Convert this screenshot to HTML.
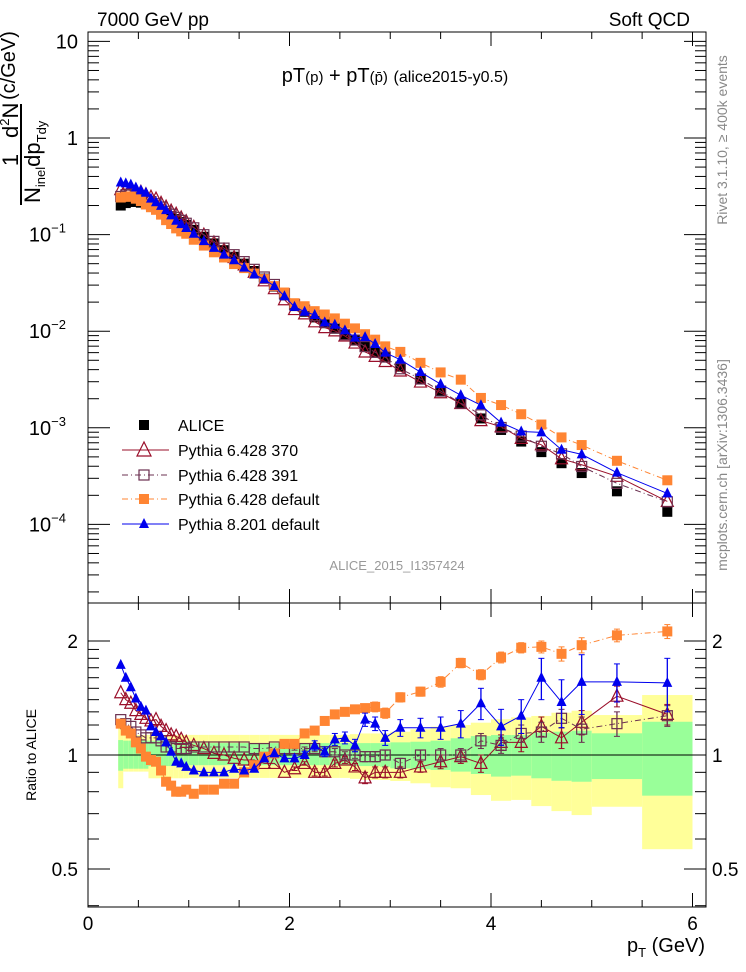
<!DOCTYPE html>
<html><head><meta charset="utf-8">
<style>
html,body{margin:0;padding:0;background:#fff;}
svg{display:block;font-family:"Liberation Sans",sans-serif;}
</style></head>
<body>
<svg id="chart" width="746" height="972" viewBox="0 0 746 972" xmlns="http://www.w3.org/2000/svg">
<g id="bands"></g>
<g id="axes"></g>
<g id="series"></g>
<text x="97" y="26" font-size="19">7000 GeV pp</text>
<text x="690" y="26" font-size="19" text-anchor="end">Soft QCD</text>
<text x="395" y="82" font-size="20" text-anchor="middle">pT<tspan font-size="15">(p)</tspan> + pT<tspan font-size="15">(p̄)</tspan> <tspan font-size="16">(alice2015-y0.5)</tspan></text>
<text x="397" y="570" font-size="13" fill="#999" text-anchor="middle">ALICE_2015_I1357424</text>
<text transform="translate(727,140) rotate(-90)" font-size="14" fill="#888" text-anchor="middle">Rivet 3.1.10, ≥ 400k events</text>
<text transform="translate(727,465) rotate(-90)" font-size="14" fill="#888" text-anchor="middle">mcplots.cern.ch [arXiv:1306.3436]</text>
<g transform="rotate(-90)">
  <text x="-160" y="18" font-size="22" text-anchor="middle">1</text>
  <line x1="-205" y1="21" x2="-104" y2="21" stroke="#000" stroke-width="2"/>
  <text x="-138" y="18" font-size="22">d<tspan font-size="13" dy="-9">2</tspan><tspan dy="9">N</tspan></text>
  <text x="-203" y="40" font-size="22">N<tspan font-size="13" dy="5">inel</tspan><tspan dy="-5">dp</tspan><tspan font-size="13" dy="6">Tdy</tspan></text>
  <text x="-100" y="15" font-size="20">(c/GeV)</text>
</g>
<text transform="translate(36,755) rotate(-90)" font-size="14" text-anchor="middle">Ratio to ALICE</text>
<text x="705" y="952" font-size="20" text-anchor="end">p<tspan font-size="13" dy="5">T</tspan><tspan dy="-5"> (GeV)</tspan></text>
<g id="legend"></g>
</svg>
<script>
// ---- data ----
const ptCenters = [0.325,0.375,0.425,0.475,0.525,0.575,0.625,0.675,0.725,0.775,0.825,0.875,0.925,0.975,
 1.05,1.15,1.25,1.35,1.45,1.55,1.65,1.75,1.85,1.95,
 2.05,2.15,2.25,2.35,2.45,2.55,2.65,2.75,2.85,2.95,
 3.1,3.3,3.5,3.7,3.9,4.1,4.3,4.5,4.7,4.9,5.25,5.75];
const binEdges = [0.3,0.35,0.4,0.45,0.5,0.55,0.6,0.65,0.7,0.75,0.8,0.85,0.9,0.95,1.0,
 1.1,1.2,1.3,1.4,1.5,1.6,1.7,1.8,1.9,2.0,2.1,2.2,2.3,2.4,2.5,2.6,2.7,2.8,2.9,3.0,
 3.2,3.4,3.6,3.8,4.0,4.2,4.4,4.6,4.8,5.0,5.5,6.0];
const aliceValues = [0.200,0.212,0.218,0.218,0.214,0.207,0.198,0.188,0.177,0.166,0.155,0.145,0.135,0.126,
 0.112,0.095,0.081,0.069,0.059,0.050,0.042,0.035,0.029,0.0235,
 0.0182,0.0159,0.0139,0.0121,0.0106,0.0092,0.0081,0.0070,0.0061,0.0054,
 0.0043,0.0032,0.0024,0.0018,0.00125,0.00095,0.00072,0.00056,0.00043,0.00034,0.00022,0.000135];
const ratio370 = [1.46,1.40,1.37,1.31,1.28,1.25,1.23,1.24,1.19,1.16,1.13,1.12,1.10,1.08,
 1.06,1.04,1.01,1.00,0.98,0.97,0.97,0.95,0.95,0.90,
 0.92,0.95,0.90,0.90,0.95,0.97,0.93,0.87,0.90,0.90,
 0.90,0.93,0.96,0.99,0.95,1.08,1.08,1.19,1.11,1.22,1.43,1.28];
const ratio391 = [1.24,1.21,1.19,1.15,1.13,1.11,1.11,1.11,1.09,1.05,1.05,1.04,1.04,1.04,
 1.05,1.05,1.05,1.05,1.05,1.05,1.04,1.04,1.05,1.04,
 1.04,1.04,1.04,1.02,1.02,1.00,1.00,0.99,0.99,1.00,
 0.95,1.00,1.00,1.00,1.09,1.06,1.14,1.15,1.25,1.17,1.21,1.27];
const ratioDefault = [1.21,1.16,1.14,1.08,1.04,0.99,0.97,0.96,0.91,0.85,0.83,0.80,0.80,0.81,
 0.79,0.81,0.81,0.84,0.84,0.90,0.94,0.99,1.01,1.07,
 1.07,1.14,1.16,1.23,1.28,1.30,1.32,1.33,1.34,1.29,
 1.42,1.47,1.56,1.75,1.63,1.81,1.92,1.93,1.85,1.95,2.07,2.12];
const ratioPy8 = [1.73,1.60,1.51,1.41,1.34,1.31,1.19,1.15,1.12,1.08,1.02,0.96,0.95,0.93,
 0.91,0.90,0.90,0.90,0.92,0.91,0.92,0.98,1.01,0.98,
 0.98,1.00,1.06,1.02,1.10,1.11,1.06,1.24,1.21,1.11,
 1.18,1.18,1.18,1.21,1.37,1.19,1.27,1.60,1.38,1.56,1.56,1.55];
const errPy8 = [0,0,0,0,0,0,0,0,0,0,0,0,0,0, 0,0,0,0,0,0,0,0,0,0,
 0.02,0.02,0.03,0.03,0.04,0.04,0.04,0.05,0.05,0.05,
 0.06,0.07,0.08,0.10,0.13,0.13,0.13,0.20,0.20,0.28,0.18,0.25];
const errDefault = [0,0,0,0,0,0,0,0,0,0,0,0,0,0, 0,0,0,0,0,0,0,0,0,0,
 0.02,0.02,0.02,0.02,0.03,0.03,0.03,0.03,0.04,0.04,
 0.04,0.04,0.05,0.05,0.05,0.06,0.06,0.07,0.08,0.09,0.08,0.09];
const err370 = [0,0,0,0,0,0,0,0,0,0,0,0,0,0, 0,0,0,0,0,0,0,0,0,0,
 0.01,0.01,0.02,0.02,0.02,0.02,0.02,0.03,0.03,0.03,
 0.03,0.03,0.04,0.04,0.05,0.05,0.06,0.07,0.07,0.09,0.09,0.08];
const err391 = err370;
const yellowHi = [1.20,1.13,1.13,1.13,1.13,1.13,1.13,1.13,1.13,1.13,1.13,1.13,1.13,1.13,
 1.13,1.13,1.13,1.13,1.13,1.13,1.13,1.13,1.13,1.13,
 1.13,1.13,1.13,1.13,1.13,1.13,1.135,1.14,1.14,1.141,
 1.152,1.169,1.188,1.20,1.217,1.243,1.257,1.268,1.293,1.309,1.275,1.44];
const yellowLo = [0.817,0.904,0.904,0.904,0.904,0.904,0.868,0.868,0.868,0.868,0.868,0.868,0.868,0.868,
 0.87,0.87,0.87,0.87,0.87,0.87,0.87,0.87,0.87,0.87,
 0.87,0.87,0.87,0.87,0.87,0.87,0.865,0.86,0.86,0.859,
 0.854,0.842,0.822,0.817,0.784,0.757,0.761,0.733,0.711,0.694,0.730,0.564];
const greenHi = [1.095,1.091,1.091,1.091,1.091,1.091,1.091,1.091,1.091,1.091,1.091,1.091,1.091,1.091,
 1.075,1.075,1.075,1.075,1.075,1.075,1.075,1.075,1.075,1.075,
 1.075,1.075,1.075,1.075,1.075,1.075,1.075,1.075,1.075,1.074,
 1.080,1.084,1.091,1.107,1.122,1.129,1.129,1.145,1.152,1.159,1.141,1.224];
const greenLo = [0.909,0.92,0.92,0.92,0.92,0.92,0.935,0.935,0.935,0.935,0.935,0.935,0.935,0.935,
 0.94,0.94,0.94,0.94,0.94,0.94,0.94,0.94,0.94,0.94,
 0.94,0.94,0.94,0.94,0.94,0.94,0.935,0.935,0.935,0.931,
 0.922,0.917,0.913,0.904,0.891,0.877,0.882,0.868,0.855,0.850,0.864,0.781];
const xTicks = [0,2,4,6];
const ratioTicks = [0.5,1,2];

// ---- scales ----
const NS = 'http://www.w3.org/2000/svg';
const X0 = 88, X1 = 706, MT = 32, MB = 603, RB = 907;
const xs = v => 88 + v * 100.75;
const ys = v => 138 - Math.log10(v) * 96.6;
const yr = v => 755 - Math.log2(v) * 114;
function mk(tag, attrs, parent) {
  const e = document.createElementNS(NS, tag);
  for (const k in attrs) e.setAttribute(k, attrs[k]);
  parent.appendChild(e);
  return e;
}
const gB = document.getElementById('bands');
const gA = document.getElementById('axes');
const gS = document.getElementById('series');
const gL = document.getElementById('legend');

for (let i = 0; i < ptCenters.length; i++) {
  const xa = xs(binEdges[i]), xb = xs(binEdges[i + 1]);
  const yb = mk('rect', {x: xa, y: yr(yellowHi[i]), width: xb - xa, height: yr(yellowLo[i]) - yr(yellowHi[i]), fill: '#ffff99'}, gB);
  
  
  const gb = mk('rect', {x: xa, y: yr(greenHi[i]), width: xb - xa, height: yr(greenLo[i]) - yr(greenHi[i]), fill: '#99ff99'}, gB);
  
  
}

const f1 = mk('rect', {x: X0, y: MT, width: X1 - X0, height: MB - MT, fill: 'none', stroke: '#000', 'stroke-width': 1}, gA);


const f2 = mk('rect', {x: X0, y: MB, width: X1 - X0, height: RB - MB, fill: 'none', stroke: '#000', 'stroke-width': 1}, gA);


const unity = mk('line', {x1: X0, x2: X1, y1: yr(1), y2: yr(1), stroke: '#000', 'stroke-width': 1}, gA);



for (let v = 0; v <= 6.01; v += 0.5) {
  const maj = Math.abs(v - Math.round(v / 2) * 2) < 1e-6;
  const L = maj ? 14 : 7;
  for (const [top, bot] of [[MT, MB], [MB, RB]]) {
    mk('line', {x1: xs(v), x2: xs(v), y1: bot, y2: bot - L, stroke: '#000'}, gA);
    mk('line', {x1: xs(v), x2: xs(v), y1: top, y2: top + L, stroke: '#000'}, gA);
  }
}
xTicks.forEach(v => {
  const t = mk('text', {x: xs(v), y: 930, 'font-size': 19, 'text-anchor': 'middle'}, gA);
  t.textContent = v;
  
  
});

for (let e = -5; e <= 1; e++) {
  for (let m = 1; m <= 9; m++) {
    const v = m * Math.pow(10, e);
    const y = ys(v);
    if (y < MT || y > MB) continue;
    const L = m === 1 ? 22 : 11;
    mk('line', {x1: X0, x2: X0 + L, y1: y, y2: y, stroke: '#000'}, gA);
    mk('line', {x1: X1, x2: X1 - L, y1: y, y2: y, stroke: '#000'}, gA);
  }
}
const decadeLabels = [[10, '10'], [1, '1'], [0.1, '10', '−1'], [0.01, '10', '−2'], [0.001, '10', '−3'], [0.0001, '10', '−4']];
decadeLabels.forEach(d => {
  const t = mk('text', {x: d[2] ? 66 : 78, y: ys(d[0]) + 7, 'font-size': 20, 'text-anchor': 'end'}, gA);
  t.textContent = d[1];
  if (d[2]) { const s = mk('tspan', {dy: -9, 'font-size': 13}, t); s.textContent = d[2]; }
  
  
});

const rminor = [0.4,0.5,0.6,0.7,0.8,0.9,1,1.1,1.2,1.3,1.4,1.5,1.6,1.7,1.8,1.9,2];
rminor.forEach(v => {
  const y = yr(v);
  if (y < MB || y > RB) return;
  const L = ratioTicks.includes(v) ? 22 : 11;
  mk('line', {x1: X0, x2: X0 + L, y1: y, y2: y, stroke: '#000'}, gA);
  mk('line', {x1: X1, x2: X1 - L, y1: y, y2: y, stroke: '#000'}, gA);
});
ratioTicks.forEach(v => {
  const t = mk('text', {x: 78, y: yr(v) + 7, 'font-size': 19, 'text-anchor': 'end'}, gA);
  t.textContent = v;
  
  
  const t2 = mk('text', {x: 712, y: yr(v) + 7, 'font-size': 19}, gA);
  t2.textContent = v;
  
  
});

function marker(kind, color, x, y, parent, size) {
  const s = size || 5;
  let e;
  if (kind === 'sqf') e = mk('rect', {x: x - s, y: y - s, width: 2 * s, height: 2 * s, fill: color}, parent);
  else if (kind === 'sqo') e = mk('rect', {x: x - s, y: y - s, width: 2 * s, height: 2 * s, fill: 'none', stroke: color, 'stroke-width': 1.2}, parent);
  else if (kind === 'trf') e = mk('polygon', {points: `${x},${y - s - 1} ${x - s},${y + s - 1} ${x + s},${y + s - 1}`, fill: color}, parent);
  else e = mk('polygon', {points: `${x},${y - s - 2} ${x - s - 1},${y + s} ${x + s + 1},${y + s}`, fill: 'none', stroke: color, 'stroke-width': 1.2}, parent);
  return e;
}

const seriesDefs = [
  {name: 'pythia-6428-370', label: 'Pythia 6.428 370', ratio: ratio370, err: err370, color: '#9a0f2a', kind: 'tro', dash: ''},
  {name: 'pythia-6428-391', label: 'Pythia 6.428 391', ratio: ratio391, err: err391, color: '#6b3050', kind: 'sqo', dash: '6,3,1,3'},
  {name: 'pythia-6428-default', label: 'Pythia 6.428 default', ratio: ratioDefault, err: errDefault, color: '#ff8533', kind: 'sqf', dash: '6,3,1,3'},
  {name: 'pythia-8201-default', label: 'Pythia 8.201 default', ratio: ratioPy8, err: errPy8, color: '#0000ee', kind: 'trf', dash: ''}
];

const ga = mk('g', {}, gS);


aliceValues.forEach((v, i) => {
  const m = marker('sqf', '#000', xs(ptCenters[i]), ys(v), ga, 5);
  
  
});

seriesDefs.forEach(sd => {
  const g = mk('g', {}, gS);
  
  
  const mainPts = sd.ratio.map((r, i) => [xs(ptCenters[i]), ys(r * aliceValues[i])]);
  const ratPts = sd.ratio.map((r, i) => [xs(ptCenters[i]), yr(r)]);
  const lineAttrs = {fill: 'none', stroke: sd.color, 'stroke-width': 1};
  if (sd.dash) lineAttrs['stroke-dasharray'] = sd.dash;
  const l1 = mk('polyline', Object.assign({points: mainPts.map(p => p.join(',')).join(' ')}, lineAttrs), g);
  
  
  const l2 = mk('polyline', Object.assign({points: ratPts.map(p => p.join(',')).join(' ')}, lineAttrs), g);
  
  
  sd.ratio.forEach((r, i) => {
    const x = xs(ptCenters[i]);
    if (sd.err[i] > 0) {
      const eb = mk('line', {x1: x, x2: x, y1: yr(r + sd.err[i]), y2: yr(Math.max(r - sd.err[i], 0.41)), stroke: sd.color, 'stroke-width': 1.3}, g);
      
      
      mk('line', {x1: x - 3, x2: x + 3, y1: yr(r + sd.err[i]), y2: yr(r + sd.err[i]), stroke: sd.color}, g);
      mk('line', {x1: x - 3, x2: x + 3, y1: yr(r - sd.err[i]), y2: yr(r - sd.err[i]), stroke: sd.color}, g);
    }
    const m1 = marker(sd.kind, sd.color, x, ys(r * aliceValues[i]), g, 5);
    
    
    const m2 = marker(sd.kind, sd.color, x, yr(r), g, 5);
    
    
  });
});

const legendRows = [{label: 'ALICE', color: '#000', kind: 'sqf', line: false, dash: ''}].concat(seriesDefs.map(s => ({label: s.label, color: s.color, kind: s.kind, line: true, dash: s.dash})));
const legY = [425, 450, 475, 499, 524];
legendRows.forEach((r, i) => {
  const g = mk('g', {}, gL);
  
  
  const y = legY[i];
  if (r.line) {
    const a = {x1: 122, x2: 169, y1: y, y2: y, stroke: r.color, 'stroke-width': 1};
    if (r.dash) a['stroke-dasharray'] = r.dash;
    mk('line', a, g);
  }
  marker(r.kind, r.color, 144, y, g, r.kind === 'tro' ? 6 : 5);
  const t = mk('text', {x: 178, y: y + 6, 'font-size': 16}, g);
  t.textContent = r.label;
});
</script>
</body></html>
